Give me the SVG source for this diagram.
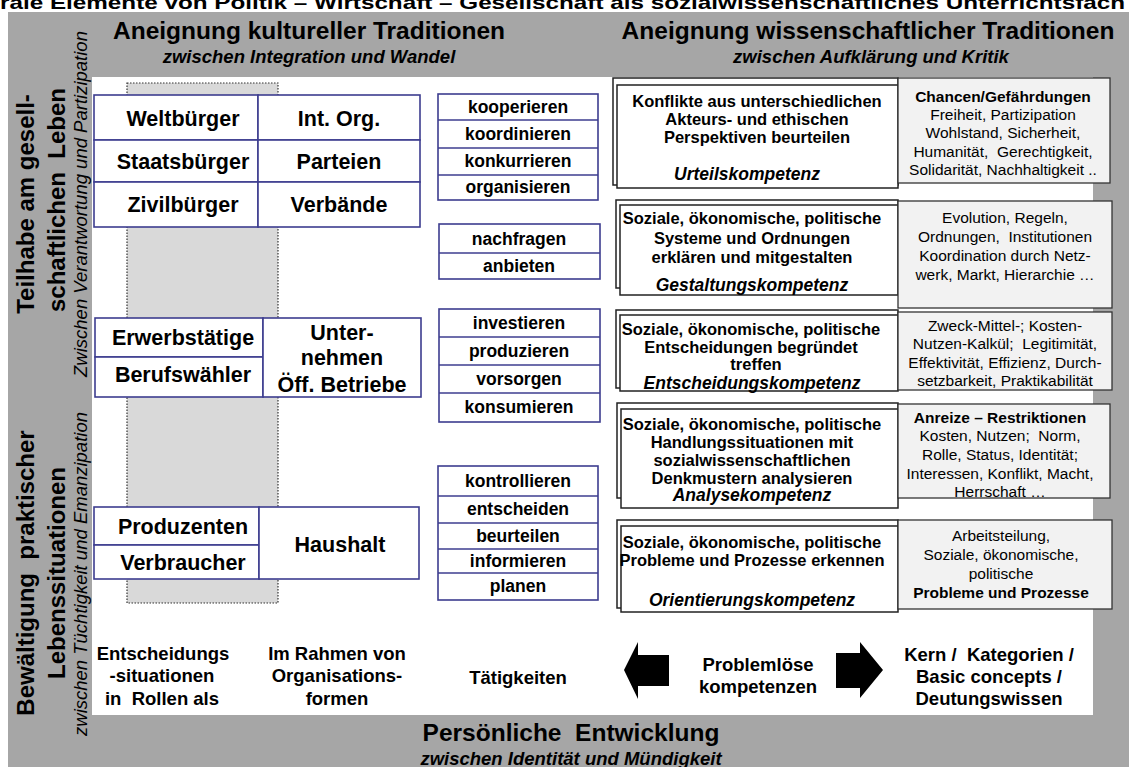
<svg xmlns="http://www.w3.org/2000/svg" width="1129" height="767" viewBox="0 0 1129 767">
<style>
.t{font-family:"Liberation Sans",Arial,sans-serif;font-weight:bold;text-anchor:middle;fill:#000;white-space:pre}
.it{font-style:italic}
.nb{font-weight:normal}
.role{font-size:21.5px}
.act{font-size:17.5px}
.comp{font-size:16.5px}
.compi{font-size:17.5px;font-style:italic}
.con{font-size:15.5px}
.bl{font-size:18.5px}
.bx{fill:#fff;stroke:#3d3d8f;stroke-width:1.6}
.sep{stroke:#3d3d8f;stroke-width:1.6}
.cb{fill:#fff;stroke:#222;stroke-width:1.5}
.gb{fill:#f2f2f2;stroke:#333;stroke-width:1.3}
.arrow{fill:#000}
</style>
<rect x="0" y="0" width="1129" height="767" fill="#fff"/>
<text class="t" x="0" y="9" style="font-size:19px;text-anchor:start" textLength="1125" lengthAdjust="spacingAndGlyphs">rale Elemente von Politik – Wirtschaft – Gesellschaft als sozialwissenschaftliches Unterrichtsfach</text>
<rect x="8" y="12" width="1121" height="755" fill="#a6a6a6"/>
<rect x="92" y="77" width="1001" height="638" fill="#fff"/>

<g id="headers">
<text class="t" x="309" y="39" style="font-size:24.5px">Aneignung kultureller Traditionen</text>
<text class="t it" x="309" y="63" style="font-size:18.5px">zwischen Integration und Wandel</text>
<text class="t" x="868" y="39" style="font-size:24.5px">Aneignung wissenschaftlicher Traditionen</text>
<text class="t it" x="871" y="63" style="font-size:18.5px">zwischen Aufklärung und Kritik</text>
<text class="t" x="571" y="741" style="font-size:24.5px">Persönliche  Entwicklung</text>
<text class="t it" x="571" y="765" style="font-size:18.5px">zwischen Identität und Mündigkeit</text>
</g>

<g id="side-labels">
<text class="t" transform="translate(34,204) rotate(-90)" style="font-size:24px">Teilhabe am gesell-</text>
<text class="t" transform="translate(65,200) rotate(-90)" style="font-size:24px">schaftlichen  Leben</text>
<text class="t it nb" transform="translate(87,204) rotate(-90)" style="font-size:18.5px">Zwischen Verantwortung und Partizipation</text>
<text class="t" transform="translate(34,573) rotate(-90)" style="font-size:24px">Bewältigung  praktischer</text>
<text class="t" transform="translate(65,573) rotate(-90)" style="font-size:24px">Lebenssituationen</text>
<text class="t it nb" transform="translate(87,574) rotate(-90)" style="font-size:18.5px">zwischen Tüchtigkeit und Emanzipation</text>
</g>

<rect id="role-band" x="127" y="83" width="151" height="520" fill="#d9d9d9" stroke="#333" stroke-width="1.2" stroke-dasharray="1.5 1.5"/>

<g id="roles-citizen">
<rect class="bx" x="94" y="95" width="164" height="45"/>
<rect class="bx" x="94" y="140" width="164" height="42"/>
<rect class="bx" x="94" y="182" width="164" height="45"/>
<rect class="bx" x="258" y="95" width="162" height="45"/>
<rect class="bx" x="258" y="140" width="162" height="42"/>
<rect class="bx" x="258" y="182" width="162" height="45"/>
<text class="t role" x="183" y="125.5">Weltbürger</text>
<text class="t role" x="183" y="169">Staatsbürger</text>
<text class="t role" x="183" y="212">Zivilbürger</text>
<text class="t role" x="339" y="125.5">Int. Org.</text>
<text class="t role" x="339" y="169">Parteien</text>
<text class="t role" x="339" y="212">Verbände</text>
</g>

<g id="roles-work">
<rect class="bx" x="95" y="318" width="168" height="39"/>
<rect class="bx" x="95" y="357" width="168" height="40"/>
<rect class="bx" x="263" y="318" width="158" height="79"/>
<text class="t role" x="183" y="344.5">Erwerbstätige</text>
<text class="t role" x="183" y="381.5">Berufswähler</text>
<text class="t role" x="342" y="340">Unter-</text>
<text class="t role" x="342" y="365">nehmen</text>
<text class="t role" x="342" y="392">Öff. Betriebe</text>
</g>

<g id="roles-household">
<rect class="bx" x="94" y="507" width="165" height="38"/>
<rect class="bx" x="94" y="545" width="165" height="34"/>
<rect class="bx" x="259" y="507" width="160" height="72"/>
<text class="t role" x="183" y="533.5">Produzenten</text>
<text class="t role" x="183" y="570">Verbraucher</text>
<text class="t role" x="340" y="551.5">Haushalt</text>
</g>

<g id="activities-org">
<rect class="bx" x="438" y="94" width="160" height="106"/>
<line class="sep" x1="438" y1="120" x2="598" y2="120"/>
<line class="sep" x1="438" y1="148" x2="598" y2="148"/>
<line class="sep" x1="438" y1="175" x2="598" y2="175"/>
<text class="t act" x="518" y="113">kooperieren</text>
<text class="t act" x="518" y="140">koordinieren</text>
<text class="t act" x="518" y="167">konkurrieren</text>
<text class="t act" x="518" y="193">organisieren</text>
</g>

<g id="activities-market">
<rect class="bx" x="439" y="224" width="161" height="55"/>
<line class="sep" x1="439" y1="253" x2="600" y2="253"/>
<text class="t act" x="519" y="245">nachfragen</text>
<text class="t act" x="519" y="272">anbieten</text>
</g>

<g id="activities-economy">
<rect class="bx" x="439" y="309" width="161" height="113"/>
<line class="sep" x1="439" y1="337" x2="600" y2="337"/>
<line class="sep" x1="439" y1="365" x2="600" y2="365"/>
<line class="sep" x1="439" y1="393" x2="600" y2="393"/>
<text class="t act" x="519" y="329">investieren</text>
<text class="t act" x="519" y="357">produzieren</text>
<text class="t act" x="519" y="385">vorsorgen</text>
<text class="t act" x="519" y="413">konsumieren</text>
</g>

<g id="activities-household">
<rect class="bx" x="438" y="466" width="160" height="134"/>
<line class="sep" x1="438" y1="496" x2="598" y2="496"/>
<line class="sep" x1="438" y1="523" x2="598" y2="523"/>
<line class="sep" x1="438" y1="549" x2="598" y2="549"/>
<line class="sep" x1="438" y1="573" x2="598" y2="573"/>
<text class="t act" x="518" y="487">kontrollieren</text>
<text class="t act" x="518" y="515">entscheiden</text>
<text class="t act" x="518" y="542">beurteilen</text>
<text class="t act" x="518" y="567">informieren</text>
<text class="t act" x="518" y="592">planen</text>
</g>

<g id="comp-urteil">
<rect class="cb" x="613" y="78" width="285" height="107"/>
<rect class="cb" x="617" y="85" width="281" height="103"/>
<text class="t comp" x="757" y="107">Konflikte aus unterschiedlichen</text>
<text class="t comp" x="757" y="125">Akteurs- und ethischen</text>
<text class="t comp" x="757" y="143">Perspektiven beurteilen</text>
<text class="t compi" x="747" y="180">Urteilskompetenz</text>
<rect class="gb" x="898" y="78" width="212" height="105"/>
<text class="t con" x="1003" y="101.5">Chancen/Gefährdungen</text>
<text class="t con nb" x="1003" y="119.5">Freiheit, Partizipation</text>
<text class="t con nb" x="1003" y="137.5">Wohlstand, Sicherheit,</text>
<text class="t con nb" x="1003" y="156.5">Humanität,  Gerechtigkeit,</text>
<text class="t con nb" x="1003" y="174.5">Solidarität, Nachhaltigkeit ..</text>
</g>

<g id="comp-gestaltung">
<rect class="cb" x="616" y="200" width="282" height="88"/>
<rect class="cb" x="620" y="205" width="278" height="90"/>
<text class="t comp" x="752" y="224">Soziale, ökonomische, politische</text>
<text class="t comp" x="752" y="244">Systeme und Ordnungen</text>
<text class="t comp" x="752" y="263">erklären und mitgestalten</text>
<text class="t compi" x="752" y="291">Gestaltungskompetenz</text>
<rect class="gb" x="898" y="201" width="214" height="107"/>
<text class="t con nb" x="1005" y="222.5">Evolution, Regeln,</text>
<text class="t con nb" x="1005" y="241.5">Ordnungen,  Institutionen</text>
<text class="t con nb" x="1005" y="260.5">Koordination durch Netz-</text>
<text class="t con nb" x="1005" y="279.5">werk, Markt, Hierarchie …</text>
</g>

<g id="comp-entscheidung">
<rect class="cb" x="616" y="310" width="282" height="78"/>
<rect class="cb" x="620" y="315" width="278" height="76"/>
<text class="t comp" x="751" y="335">Soziale, ökonomische, politische</text>
<text class="t comp" x="751" y="353">Entscheidungen begründet</text>
<text class="t comp" x="756" y="370">treffen</text>
<text class="t compi" x="752" y="388.5">Entscheidungskompetenz</text>
<rect class="gb" x="898" y="312" width="214" height="78"/>
<text class="t con nb" x="1005" y="330.5">Zweck-Mittel-; Kosten-</text>
<text class="t con nb" x="1005" y="348.5">Nutzen-Kalkül;  Legitimität,</text>
<text class="t con nb" x="1005" y="367.5">Effektivität, Effizienz, Durch-</text>
<text class="t con nb" x="1005" y="385.5">setzbarkeit, Praktikabilität</text>
</g>

<g id="comp-analyse">
<rect class="cb" x="617" y="403" width="281" height="95"/>
<rect class="cb" x="621" y="409" width="277" height="99"/>
<text class="t comp" x="752" y="430">Soziale, ökonomische, politische</text>
<text class="t comp" x="752" y="448">Handlungssituationen mit</text>
<text class="t comp" x="752" y="466">sozialwissenschaftlichen</text>
<text class="t comp" x="752" y="484">Denkmustern analysieren</text>
<text class="t compi" x="752" y="501">Analysekompetenz</text>
<rect class="gb" x="898" y="404" width="212" height="94"/>
<text class="t con" x="1000" y="422.5">Anreize – Restriktionen</text>
<text class="t con nb" x="1000" y="440.5">Kosten, Nutzen;  Norm,</text>
<text class="t con nb" x="1000" y="459.5">Rolle, Status, Identität;</text>
<text class="t con nb" x="1000" y="478.5">Interessen, Konflikt, Macht,</text>
<text class="t con nb" x="1000" y="496.5">Herrschaft …</text>
</g>

<g id="comp-orientierung">
<rect class="cb" x="617" y="520" width="281" height="88"/>
<rect class="cb" x="621" y="526" width="277" height="86"/>
<text class="t comp" x="752" y="548">Soziale, ökonomische, politische</text>
<text class="t comp" x="752" y="566">Probleme und Prozesse erkennen</text>
<text class="t compi" x="752" y="606">Orientierungskompetenz</text>
<rect class="gb" x="898" y="520" width="214" height="89"/>
<text class="t con nb" x="1001" y="540.5">Arbeitsteilung,</text>
<text class="t con nb" x="1001" y="559.5">Soziale, ökonomische,</text>
<text class="t con nb" x="1001" y="578.5">politische</text>
<text class="t con" x="1001" y="597.5">Probleme und Prozesse</text>
</g>

<g id="bottom-labels">
<text class="t bl" x="163" y="660">Entscheidungs</text>
<text class="t bl" x="162" y="682">-situationen</text>
<text class="t bl" x="162" y="705">in  Rollen als</text>
<text class="t bl" x="337" y="660">Im Rahmen von</text>
<text class="t bl" x="337" y="682">Organisations-</text>
<text class="t bl" x="337" y="705">formen</text>
<text class="t bl" x="518" y="684">Tätigkeiten</text>
<text class="t bl" x="758" y="671">Problemlöse</text>
<text class="t bl" x="758" y="693">kompetenzen</text>
<text class="t bl" x="989" y="661">Kern /  Kategorien /</text>
<text class="t bl" x="989" y="683">Basic concepts /</text>
<text class="t bl" x="989" y="705">Deutungswissen</text>
</g>

<g id="connectors">
<polygon class="arrow" points="624,670 638,642 638,655 669,655 669,686 638,686 638,699"/>
<polygon class="arrow" points="883,670 860,642 860,653 836,653 836,688 860,688 860,698"/>
</g>
</svg>
